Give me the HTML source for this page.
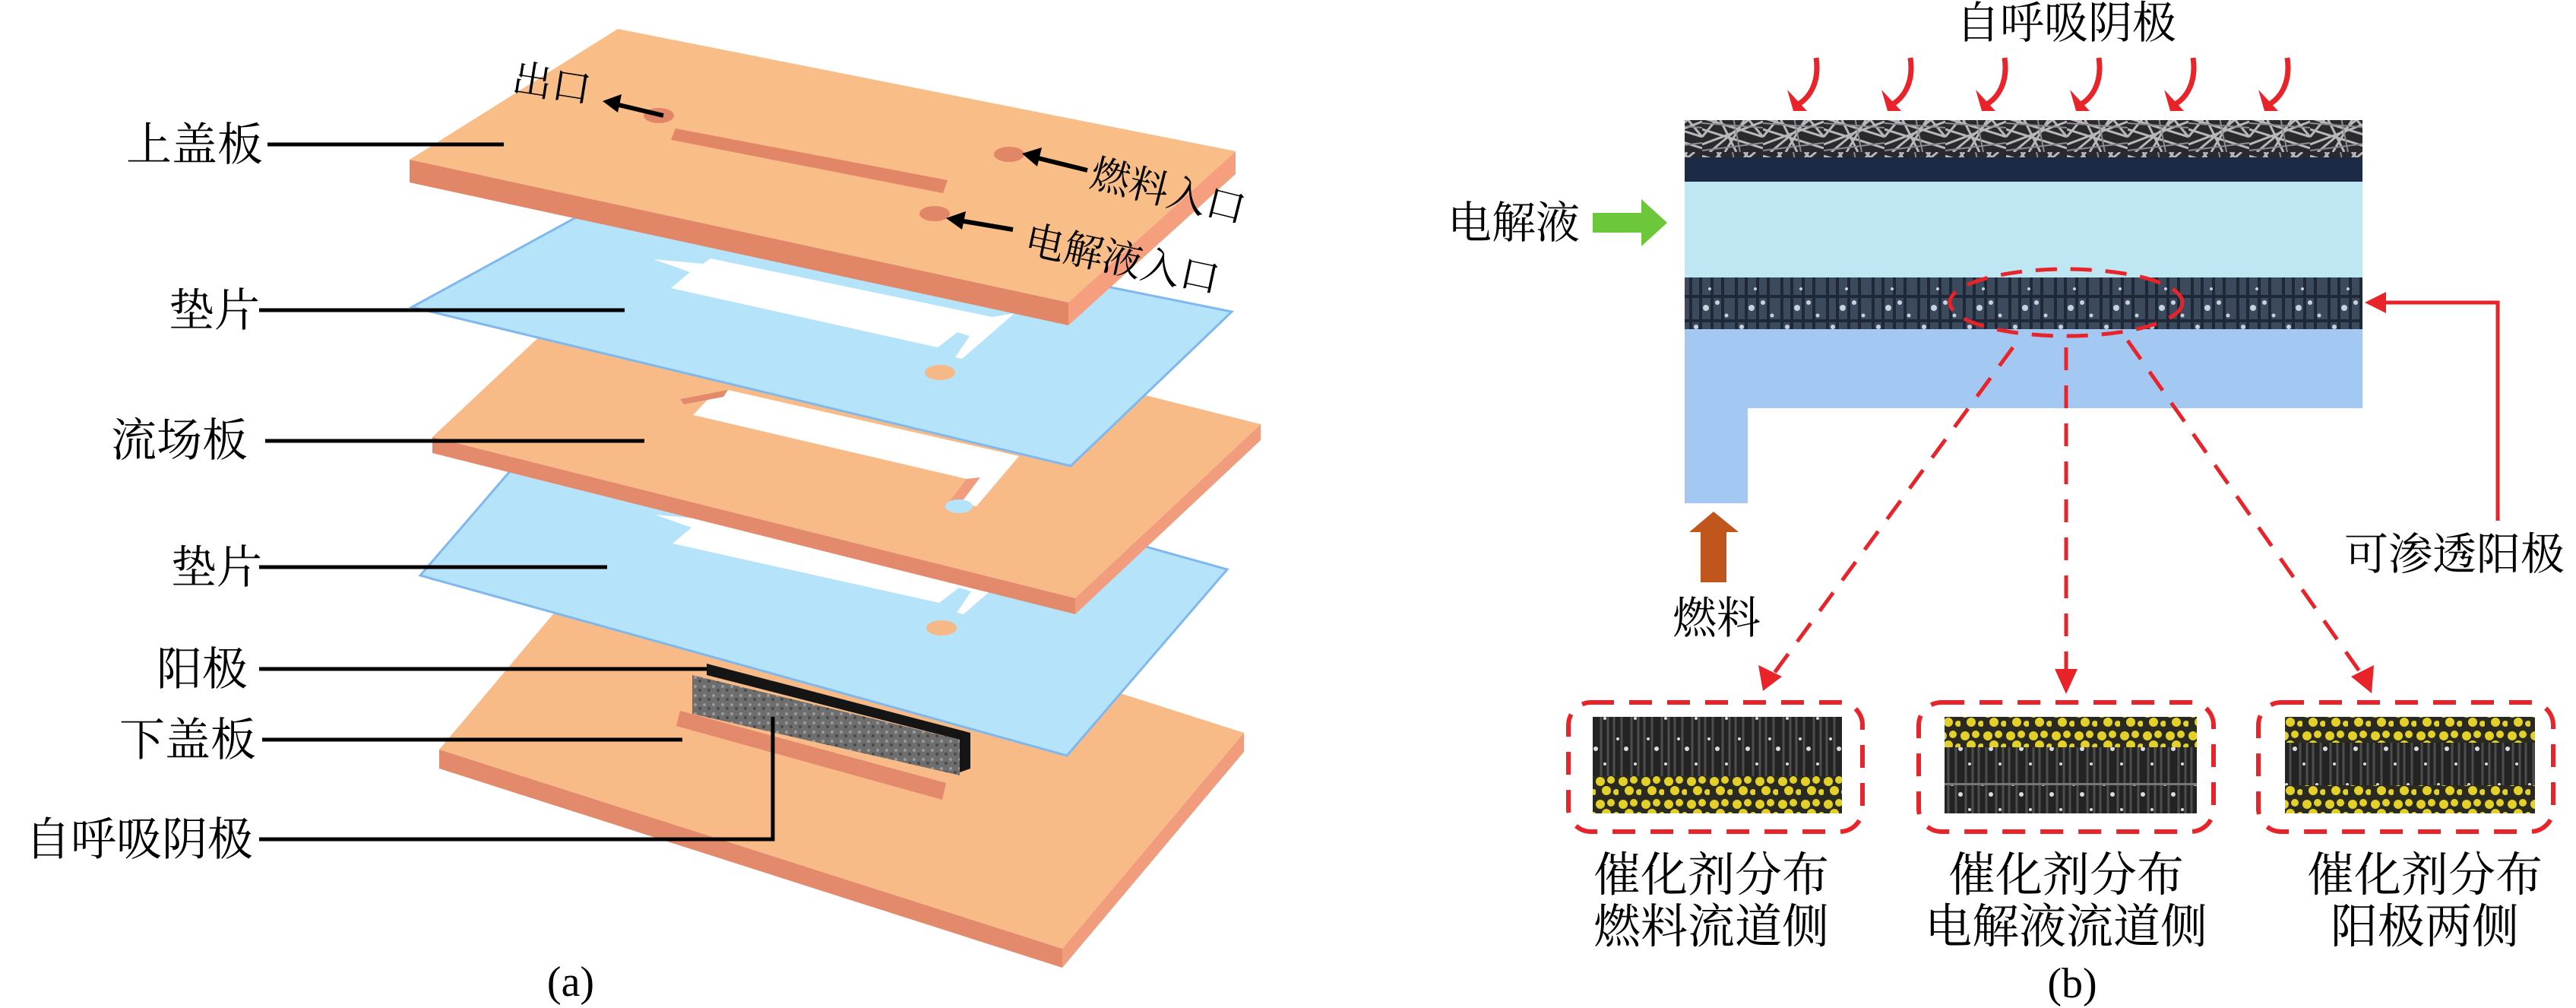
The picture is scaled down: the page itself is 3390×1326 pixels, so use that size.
<!DOCTYPE html>
<html><head><meta charset="utf-8"><style>
html,body{margin:0;padding:0;background:#fff;}
svg{display:block;}
.t{font-family:"Liberation Serif","Noto Serif CJK SC",serif;fill:#000;}
</style></head><body>
<svg width="3390" height="1326" viewBox="0 0 3390 1326" xmlns="http://www.w3.org/2000/svg">
<defs>
<pattern id="fib" width="80" height="50" patternUnits="userSpaceOnUse">
<rect width="80" height="50" fill="#2a2a2e"/>
<g stroke="#b8b8bc" stroke-width="3" fill="none">
<path d="M0 5 L80 30 M0 40 L80 10 M20 0 L45 50 M60 0 L30 50 M0 20 L80 45 M55 0 L80 30 M0 30 L25 0 M10 50 L70 0"/>
</g>
<g stroke="#8a8a90" stroke-width="2"><path d="M0 12 L80 18 M40 0 L50 50 M0 48 L80 38"/></g>
</pattern>
<pattern id="por" width="60" height="74" patternUnits="userSpaceOnUse">
<rect width="60" height="74" fill="#3c4a5e"/>
<g stroke="#1f2837" stroke-width="4"><path d="M5 0 V74 M18 0 V74 M33 0 V74 M47 0 V74 M0 20 H60 M0 52 H60"/></g>
<g fill="#c8d2de"><circle cx="25" cy="35" r="4"/><circle cx="40" cy="28" r="3"/><circle cx="12" cy="60" r="3"/><circle cx="52" cy="45" r="2.5"/><circle cx="30" cy="10" r="2"/></g>
</pattern>
<pattern id="dk" width="40" height="60" patternUnits="userSpaceOnUse">
<rect width="40" height="60" fill="#232323"/>
<g stroke="#4d4d4d" stroke-width="3"><path d="M4 0 V60 M14 0 V60 M27 0 V60 M36 0 V60"/></g>
<g fill="#dcdcdc"><circle cx="20" cy="25" r="3"/><circle cx="32" cy="45" r="2"/><circle cx="9" cy="12" r="2"/></g>
</pattern>
<pattern id="yel" width="30" height="30" patternUnits="userSpaceOnUse">
<rect width="30" height="30" fill="#2a2a20"/>
<g fill="#e3d12a"><circle cx="6" cy="8" r="6"/><circle cx="20" cy="6" r="5"/><circle cx="14" cy="20" r="6"/><circle cx="27" cy="22" r="4"/></g>
</pattern>
<pattern id="gry" width="12" height="12" patternUnits="userSpaceOnUse">
<rect width="12" height="12" fill="#6e6e6e"/>
<circle cx="3" cy="3" r="2" fill="#9a9a9a"/><circle cx="9" cy="8" r="2" fill="#4a4a4a"/>
</pattern>
<marker id="rh" markerWidth="10" markerHeight="10" refX="8" refY="5" orient="auto" markerUnits="userSpaceOnUse" viewBox="0 0 10 10">
<path d="M0 0 L10 5 L0 10 Z" fill="#e8242a"/></marker>
</defs>

<!-- ===== LEFT PANEL ===== -->
<!-- bottom plate -->
<polygon points="578,986 817,702 1637,964 1398,1248" fill="#f8bb88"/>
<polygon points="578,986 1398,1248 1398,1273 578,1011" fill="#e48a6c"/>
<polygon points="1398,1248 1637,964 1637,989 1398,1273" fill="#f19c7c"/>
<polygon points="895,935 1245,1030 1240,1052 890,955" fill="#e48a6c"/>
<!-- electrode -->
<polygon points="930,873 1277,964 1277,1011 1263,1016 1263,973 930,888" fill="#151515"/>
<polygon points="911,888 1263,973 1263,1020 911,939" fill="url(#gry)"/>

<!-- gasket 2 -->
<polygon points="553,757 764,512 1615,749 1404,994" fill="#b5e4fa" stroke="#7fb8ee" stroke-width="3"/>
<polygon points="862,677 927,683 937,676 1308,753 1337,748 1268,808 1259,806 1278,778 1262,773 1236,793 885,715 910,694" fill="#fff"/>
<ellipse cx="1239" cy="826" rx="20" ry="10" fill="#f7b888"/>

<!-- flow plate -->
<polygon points="569,575 813,346 1659,558 1415,787" fill="#f8bb88"/>
<polygon points="569,575 1415,787 1415,808 569,596" fill="#e48a6c"/>
<polygon points="1415,787 1659,558 1659,579 1415,808" fill="#f19c7c"/>
<polygon points="912,546 931,526 958,513 1341,600 1285,666 1249,660 1272,630 921,548" fill="#fff"/>
<polygon points="1272,630 1290,628 1262,665 1249,660" fill="#f19c7c"/>
<polygon points="895,525 958,513 952,522 900,532" fill="#e48a6c"/>
<ellipse cx="1262" cy="666" rx="18" ry="9" fill="#b5e4fa"/>

<!-- gasket 1 -->
<polygon points="542,404 824,250 1621,410 1409,613" fill="#b5e4fa" stroke="#7fb8ee" stroke-width="3"/>
<polygon points="860,341 925,347 935,340 1306,417 1335,412 1266,472 1257,470 1276,442 1260,437 1234,457 883,379 908,358" fill="#fff"/>
<ellipse cx="1237" cy="490" rx="20" ry="10" fill="#f7b888"/>

<!-- top plate -->
<polygon points="539,210 813,38 1626,199 1406,398" fill="#f9bd88"/>
<polygon points="539,210 1406,398 1406,428 539,240" fill="#e28668"/>
<polygon points="1406,398 1626,199 1626,229 1406,428" fill="#f59f7e"/>
<polygon points="889,169 1247,237 1241,254 883,184" fill="#e28668"/>
<ellipse cx="867" cy="152" rx="20" ry="10" fill="#e28668"/>
<ellipse cx="1328" cy="203" rx="20" ry="10" fill="#e28668"/>
<ellipse cx="1230" cy="281" rx="20" ry="10" fill="#e28668"/>

<!-- arrows on top plate -->
<g stroke="#000" stroke-width="6" fill="#000">
<line x1="873" y1="152" x2="810" y2="137"/><polygon points="793,133 818,124 813,148" stroke="none"/>
<line x1="1431" y1="224" x2="1362" y2="207"/><polygon points="1345,202 1371,194 1365,219" stroke="none"/>
<line x1="1333" y1="302" x2="1262" y2="290"/><polygon points="1245,287 1271,278 1266,302" stroke="none"/>
</g>
<text class="t" font-size="52" transform="translate(672,120) rotate(9)">出口</text>
<text class="t" font-size="52" transform="translate(1432,244) rotate(14)">燃料入口</text>
<text class="t" font-size="52" transform="translate(1346,332) rotate(12)">电解液入口</text>

<!-- labels left -->
<g stroke="#000" stroke-width="5" fill="none">
<line x1="352" y1="190" x2="663" y2="190"/>
<line x1="341" y1="408" x2="822" y2="408"/>
<line x1="349" y1="580" x2="848" y2="580"/>
<line x1="341" y1="746" x2="799" y2="746"/>
<line x1="341" y1="880" x2="930" y2="880"/>
<line x1="345" y1="973" x2="898" y2="973"/>
<polyline points="341,1104 1017,1104 1017,943"/>
</g>
<g class="t" font-size="60">
<text x="166" y="211">上盖板</text>
<text x="222" y="429">垫片</text>
<text x="146" y="600">流场板</text>
<text x="225" y="767">垫片</text>
<text x="206" y="901">阳极</text>
<text x="157" y="994">下盖板</text>
<text x="33" y="1125">自呼吸阴极</text>
</g>
<text class="t" font-size="56" x="751" y="1310" text-anchor="middle">(a)</text>

<!-- ===== RIGHT PANEL ===== -->
<text class="t" font-size="58" x="2719" y="50" text-anchor="middle">自呼吸阴极</text>
<g stroke="#e8242a" stroke-width="7" fill="none">
<path d="M2390 76 C2395 110 2380 130 2365 138"/>
<path d="M2514 76 C2519 110 2504 130 2489 138"/>
<path d="M2638 76 C2643 110 2628 130 2613 138"/>
<path d="M2762 76 C2767 110 2752 130 2737 138"/>
<path d="M2886 76 C2891 110 2876 130 2861 138"/>
<path d="M3010 76 C3015 110 3000 130 2985 138"/>
</g>
<g fill="#e8242a">
<polygon points="2352,118 2378,146 2360,146"/><polygon points="2476,118 2502,146 2484,146"/><polygon points="2600,118 2626,146 2608,146"/>
<polygon points="2724,118 2750,146 2732,146"/><polygon points="2848,118 2874,146 2856,146"/><polygon points="2972,118 2998,146 2980,146"/>
</g>
<rect x="2217" y="158" width="892" height="49" fill="url(#fib)"/>
<rect x="2217" y="207" width="892" height="32" fill="#1c2a45"/>
<rect x="2217" y="239" width="892" height="126" fill="#bfe6f3"/>
<rect x="2217" y="365" width="892" height="68" fill="url(#por)"/>
<polygon points="2217,433 3109,433 3109,537 2300,537 2300,662 2217,662" fill="#a3c8f2"/>

<text class="t" font-size="58" x="1905" y="313">电解液</text>
<polygon points="2096,280 2160,280 2160,262 2194,293 2160,324 2160,306 2096,306" fill="#6cc83a"/>
<polygon points="2238,766 2238,700 2223,700 2255,673 2288,700 2272,700 2272,766" fill="#c0561c"/>
<text class="t" font-size="58" x="2201" y="833">燃料</text>

<ellipse cx="2719" cy="398" rx="153" ry="44" fill="none" stroke="#e8242a" stroke-width="5" stroke-dasharray="28,18"/>
<polyline points="3287,685 3287,398 3135,398" fill="none" stroke="#e8242a" stroke-width="5"/>
<polygon points="3112,398 3140,384 3140,412" fill="#e8242a"/>
<text class="t" font-size="58" x="3085" y="749">可渗透阳极</text>

<g stroke="#e8242a" stroke-width="5" stroke-dasharray="30,20" fill="none">
<line x1="2649" y1="457" x2="2330" y2="892"/>
<line x1="2719" y1="457" x2="2719" y2="890"/>
<line x1="2800" y1="448" x2="3112" y2="893"/>
</g>
<g fill="#e8242a">
<polygon points="2320,909 2314,875 2345,890"/>
<polygon points="2719,913 2704,880 2734,880"/>
<polygon points="3121,912 3094,890 3124,875"/>
</g>

<g fill="none" stroke="#e8242a" stroke-width="6" stroke-dasharray="30,20">
<rect x="2064" y="924" width="387" height="170" rx="30"/>
<rect x="2525" y="924" width="388" height="170" rx="30"/>
<rect x="2972" y="924" width="388" height="170" rx="30"/>
</g>
<rect x="2096" y="943" width="328" height="78" fill="url(#dk)"/>
<rect x="2096" y="1021" width="328" height="49" fill="url(#yel)"/>
<rect x="2559" y="943" width="332" height="40" fill="url(#yel)"/>
<rect x="2559" y="983" width="332" height="87" fill="url(#dk)"/>
<rect x="2559" y="1030" width="332" height="3" fill="#777"/>
<rect x="3007" y="943" width="329" height="34" fill="url(#yel)"/>
<rect x="3007" y="977" width="329" height="56" fill="url(#dk)"/>
<rect x="3007" y="1033" width="329" height="37" fill="url(#yel)"/>

<g class="t" font-size="62" text-anchor="middle">
<text x="2252" y="1172">催化剂分布</text><text x="2252" y="1240">燃料流道侧</text>
<text x="2719" y="1172">催化剂分布</text><text x="2719" y="1240">电解液流道侧</text>
<text x="3191" y="1172">催化剂分布</text><text x="3191" y="1240">阳极两侧</text>
</g>
<text class="t" font-size="56" x="2727" y="1312" text-anchor="middle">(b)</text>
</svg>
</body></html>
